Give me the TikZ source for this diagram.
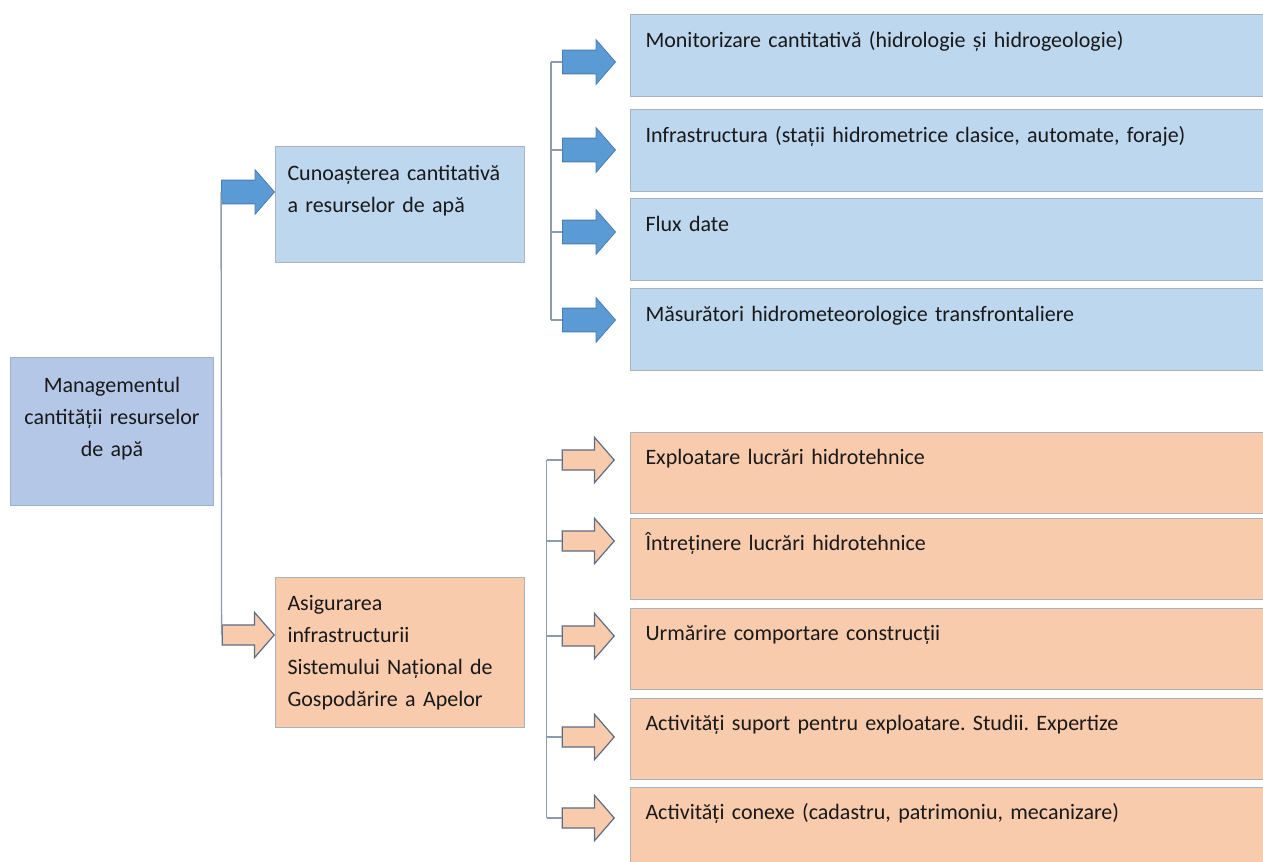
\documentclass[tikz,border=0pt]{standalone}
\usepackage{fontspec}
\setmainfont{Carlito}
\usetikzlibrary{positioning, shapes.arrows}
\frenchspacing

\definecolor{rootblue}{HTML}{B4C7E7}
\definecolor{rootedge}{HTML}{9AAFD2}
\definecolor{lightblue}{HTML}{BDD7EE}
\definecolor{peach}{HTML}{F8CBAD}
\definecolor{boxedge}{HTML}{ABB2BA}
\definecolor{arrowblue}{HTML}{5B9BD5}
\definecolor{arrowedge}{HTML}{4A7DB0}
\definecolor{slate}{HTML}{5D6D82}
\definecolor{linkgray}{HTML}{8D9BAF}

\begin{document}
\begin{tikzpicture}[x=0.75pt, y=-0.75pt,
    every node/.style={font=\fontsize{16.5}{24}\selectfont, text=black!90},
    rootbox/.style={rectangle, draw=rootedge, fill=rootblue, line width=0.75pt, anchor=north west, text width=140.25pt, inner xsep=6pt, inner ysep=0pt, text height=26.25pt, text depth=84.75pt, align=center},
    midbox/.style={rectangle, draw=boxedge, line width=0.75pt, anchor=north west, text width=168.75pt, inner xsep=9pt, inner ysep=0pt, align=left},
    bluebox/.style={rectangle, draw=boxedge, fill=lightblue, line width=0.75pt, anchor=north west, text width=457.5pt, inner xsep=11.25pt, inner ysep=0pt, text height=24.75pt, text depth=36.75pt, align=left},
    peachbox/.style={rectangle, draw=boxedge, fill=peach, line width=0.75pt, anchor=north west, text width=457.5pt, inner xsep=11.25pt, inner ysep=0pt, text height=24pt, text depth=36.75pt, align=left},
    bluearrow/.style={single arrow, draw=arrowedge, fill=arrowblue, line width=0.6pt, minimum height=39.75pt, inner xsep=0pt, inner ysep=8.6pt, single arrow head extend=7.9pt, single arrow tip angle=98, anchor=tip},
    peacharrow/.style={single arrow, draw=slate, fill=peach, line width=0.9pt, minimum height=39pt, inner xsep=0pt, inner ysep=7.1pt, single arrow head extend=9.4pt, single arrow tip angle=98, anchor=tip},
    link/.style={draw=linkgray, line width=1pt}]

    \useasboundingbox (0,0) rectangle (1263,861);

    \node[rootbox] (mgmt) at (10,357) {Managementul\\ cantității resurselor\\ de apă};

    \node[midbox, fill=lightblue, text height=25.5pt, text depth=61.5pt] (cunoa) at (275,146) {Cunoașterea cantitativă\\ a resurselor de apă};
    \node[midbox, fill=peach, text height=24.75pt, text depth=87.75pt] (asig) at (275,577) {Asigurarea\\ infrastructurii\\ Sistemului Național de\\ Gospodărire a Apelor};

    \node[bluearrow] (acunoa) at (275,192) {};
    \node[peacharrow] (aasig) at (275,635) {};
    \draw[link] (acunoa.tail) -- (aasig.tail);

    % blue column
    \node[bluebox] (mon) at (630,14) {Monitorizare cantitativă (hidrologie și hidrogeologie)};
    \node[bluebox, below=9pt of mon] (infra) {Infrastructura (stații hidrometrice clasice, automate, foraje)};
    \node[bluebox, below=4.5pt of infra] (flux) {Flux date};
    \node[bluebox, below=5.25pt of flux] (masur) {Măsurători hidrometeorologice transfrontaliere};

    \node[bluearrow] (amon) at (616,62) {};
    \node[bluearrow] (ainfra) at (616,150) {};
    \node[bluearrow] (aflux) at (616,232) {};
    \node[bluearrow] (amasur) at (616,320) {};
    \foreach \a in {amon, ainfra, aflux, amasur}
        \draw[link] (\a.tail) -- ++(-11,0);
    \draw[link] ([xshift=-8.25pt]amon.tail) -- ([xshift=-8.25pt]amasur.tail);

    % peach column
    \node[peachbox] (exploat) at (630,432) {Exploatare lucrări hidrotehnice};
    \node[peachbox, below=3pt of exploat] (intret) {Întreținere lucrări hidrotehnice};
    \node[peachbox, below=6pt of intret] (urmar) {Urmărire comportare construcții};
    \node[peachbox, below=6pt of urmar] (suport) {Activități suport pentru exploatare. Studii. Expertize};
    \node[peachbox, below=5.25pt of suport] (conexe) {Activități conexe (cadastru, patrimoniu, mecanizare)};

    \node[peacharrow] (aexploat) at (615,460) {};
    \node[peacharrow] (aintret) at (615,541) {};
    \node[peacharrow] (aurmar) at (615,636) {};
    \node[peacharrow] (asuport) at (615,737) {};
    \node[peacharrow] (aconexe) at (615,818) {};
    \foreach \a in {aexploat, aintret, aurmar, asuport, aconexe}
        \draw[link] (\a.tail) -- ++(-15,0);
    \draw[link] ([xshift=-11.25pt]aexploat.tail) -- ([xshift=-11.25pt]aconexe.tail);

\end{tikzpicture}
\end{document}
